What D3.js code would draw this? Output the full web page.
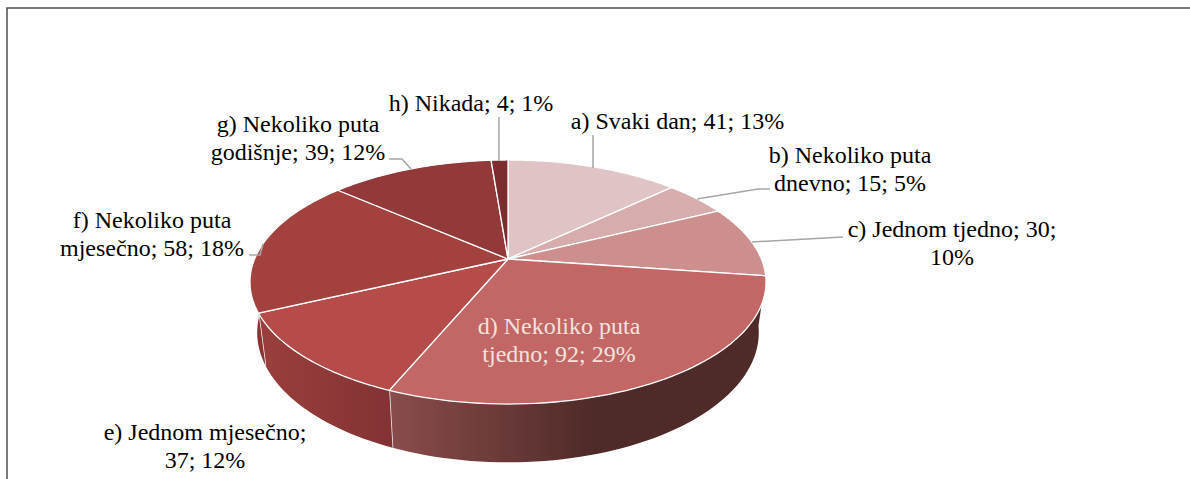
<!DOCTYPE html>
<html>

<head>
    <meta charset="utf-8">
    <title>Pie</title>
    <script src="https://d3js.org/d3.v7.min.js"></script>
    <style>
        html, body { margin: 0; padding: 0; background: #fff; }
        svg { display: block; }
        text { font-family: "Liberation Serif", "Times New Roman", serif; font-size: 24px; fill: #000; }
    </style>
</head>

<body>
    <div id='view'></div>

    <script>
        var categories = ["a) Svaki dan", "b) Nekoliko puta dnevno", "c) Jednom tjedno", "d) Nekoliko puta tjedno",
            "e) Jednom mjesečno", "f) Nekoliko puta mjesečno", "g) Nekoliko puta godišnje", "h) Nikada"];
        var values = [41, 15, 30, 92, 37, 58, 39, 4];
        var percents = [13, 5, 10, 29, 12, 18, 12, 1];
        var colors = ["#e0c3c4", "#d6acad", "#cd8e8e", "#c36666", "#b64c49", "#a3413f", "#93393a", "#7d2d30"];
        var sideLeft = ["#e0c3c4", "#d6acad", "#cd8e8e", "#8a4c4c", "#9a3f3c", "#8a3533", "#7a2d2e", "#662528"];
        var sideRight = ["#e0c3c4", "#d6acad", "#cd8e8e", "#4e2a28", "#833234", "#8a3533", "#7a2d2e", "#662528"];

        var width = 1190;
        var height = 479;

        // perspective of the pie: k pulls the near edge down and out
        var cx = 508, cy = 259, rx = 253.4, ry = 117.7, k = 0.1885;
        // the bottom rim is the same curve, moved and squeezed
        var baseY = 308, baseFx = 0.972, baseFy = 1.064;

        function topPoint(a) {
            var u = Math.sin(a), v = -Math.cos(a), s = 1 / (1 - k * v);
            return [cx + rx * u * s, cy + ry * v * s];
        }
        function basePoint(a) {
            var p = topPoint(a);
            return [cx + (p[0] - cx) * baseFx, baseY + (p[1] - cy) * baseFy];
        }
        function arcAngles(a0, a1) {
            return d3.range(0, 61).map(function (i) { return a0 + (a1 - a0) * i / 60; });
        }

        var svg = d3.select("#view")
            .append("svg")
            .attr("width", width)
            .attr("height", height)
            .attr("viewBox", "0 0 " + width + " " + height);

        // chart frame, cut off at the bottom and right of the picture
        svg.append("path")
            .attr("d", "M7," + height + "V8H" + width)
            .attr("fill", "none")
            .attr("stroke", "#4d4d4d")
            .attr("stroke-width", 1.5);

        var pie = d3.pie().sort(null).value(function (d) { return d; });
        var slices = pie(values);
        var line = d3.line();
        var defs = svg.append("defs");

        // side walls, only the ones facing us
        slices.forEach(function (d, i) {
            var a0 = Math.max(d.startAngle, Math.PI / 2);
            var a1 = Math.min(d.endAngle, Math.PI * 1.5);
            if (a1 <= a0) return;
            var angles = arcAngles(a0, a1);
            var pts = angles.map(topPoint).concat(angles.slice().reverse().map(basePoint));
            var xs = pts.map(function (p) { return p[0]; });
            // x1 is the right end of the wall: angles run clockwise, so the wall starts on the right
            var grad = defs.append("linearGradient")
                .attr("id", "side" + i)
                .attr("gradientUnits", "userSpaceOnUse")
                .attr("x1", d3.min(xs)).attr("x2", d3.max(xs))
                .attr("y1", 0).attr("y2", 0);
            grad.append("stop").attr("offset", 0).attr("stop-color", sideLeft[i]);
            grad.append("stop").attr("offset", i == 3 ? 0.55 : 1).attr("stop-color", sideRight[i]);
            svg.append("path")
                .attr("d", line(pts) + "Z")
                .attr("fill", "url(#side" + i + ")");
            // white seam between walls
            if (d.endAngle < Math.PI * 1.5) {
                svg.append("path")
                    .attr("d", line([topPoint(d.endAngle), basePoint(d.endAngle)]))
                    .attr("stroke", "#f2f2f2").attr("stroke-width", 1.5).attr("fill", "none");
            }
        });

        // top faces
        slices.forEach(function (d, i) {
            var pts = [[cx, cy]].concat(arcAngles(d.startAngle, d.endAngle).map(topPoint));
            svg.append("path")
                .attr("d", line(pts) + "Z")
                .attr("fill", colors[i])
                .attr("stroke", "#fff")
                .attr("stroke-width", 1.3)
                .attr("stroke-linejoin", "round");
        });

        // leader lines
        var leaders = [
            [[593, 135], [593, 168]],
            [[770, 189], [758, 189], [697, 199]],
            [[843, 237], [752, 242]],
            null,
            null,
            [[249, 255], [260, 255], [263, 244]],
            [[389, 159], [402, 159], [411, 169]],
            [[499, 117], [499, 161]]
        ];
        leaders.forEach(function (pts) {
            if (!pts) return;
            svg.append("path")
                .attr("d", line(pts))
                .attr("fill", "none")
                .attr("stroke", "#a6a6a6")
                .attr("stroke-width", 1.5);
        });

        // label anchors and where each label wraps
        var labelPos = [
            [677.5, 129],
            [850, 163],
            [952, 237],
            [559, 334],
            [205, 440],
            [152, 228],
            [298, 132],
            [471, 111]
        ];
        var firstLine = [null, "b) Nekoliko puta", "c) Jednom tjedno; 30;", "d) Nekoliko puta", "e) Jednom mjesečno;", "f) Nekoliko puta", "g) Nekoliko puta", null];

        categories.forEach(function (name, i) {
            var full = name + "; " + values[i] + "; " + percents[i] + "%";
            var lines = firstLine[i]
                ? [firstLine[i], full.slice(firstLine[i].length + 1)]
                : [full];
            var t = svg.append("text")
                .attr("x", labelPos[i][0])
                .attr("y", labelPos[i][1])
                .attr("text-anchor", "middle");
            if (i == 3) t.style("fill", "#f0e3dc");
            lines.forEach(function (s, j) {
                t.append("tspan")
                    .attr("x", labelPos[i][0])
                    .attr("dy", j == 0 ? 0 : 27.5)
                    .text(s);
            });
        });
    </script>
</body>

</html>
